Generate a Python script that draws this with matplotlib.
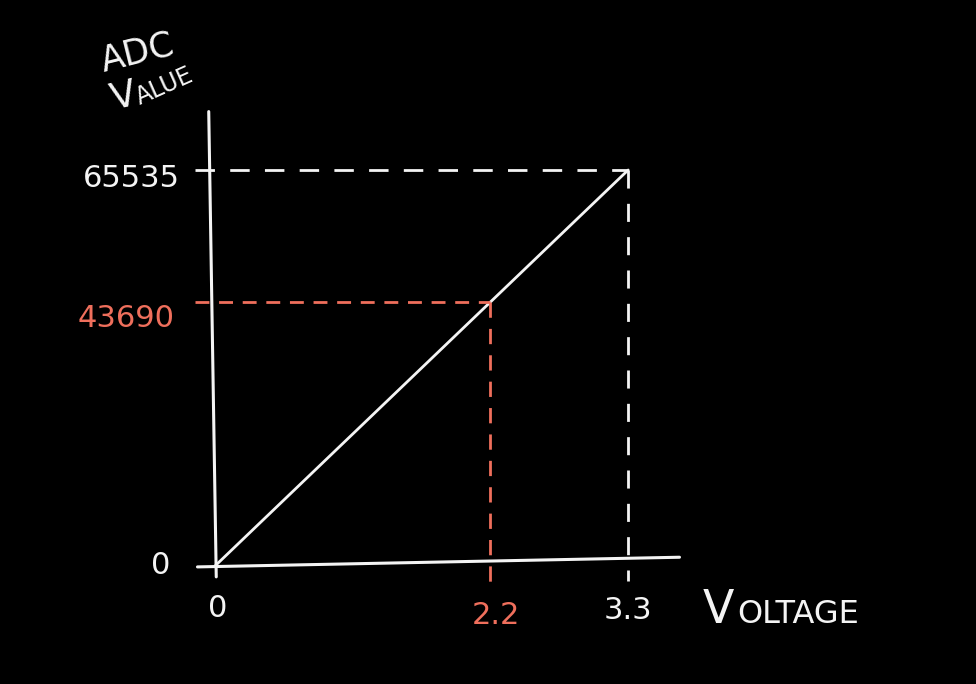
import matplotlib.pyplot as plt

plt.rcParams['font.family'] = ['DejaVu Sans']
plt.rcParams['lines.scale_dashes'] = False

# data
v_max = 3.3
adc_max = 65535
v_mark = 2.2
adc_mark = 43690

line_v = [0, v_max]
line_adc = [0, adc_max]

white = '#f4f4f4'
red = '#ef6f5c'

fig = plt.figure(figsize=(9.76, 6.84), dpi=100, facecolor='black')
ax = fig.add_axes([0, 0, 1, 1])
ax.set_facecolor('black')
# pixel 215 -> 0 V, 125.2 px per volt ; pixel 566 -> 0, 396 px per 65535
ax.set_xlim(-215 / 125.2, (976 - 215) / 125.2)
ax.set_ylim(-(684 - 566) / 396 * adc_max, 566 / 396 * adc_max)
ax.axis('off')

# axes, hand drawn look (slight tilt)
ax.plot([-0.05, 0.01], [75200, -1800], color=white, lw=2.2, solid_capstyle='round')
ax.plot([-0.14, 3.71], [-150, 1450], color=white, lw=2.2, solid_capstyle='round')

# the transfer line
ax.plot(line_v, line_adc, color=white, lw=2.0, solid_capstyle='round')

# guide lines
ax.plot([-0.16, v_max], [adc_max, adc_max], color=white, lw=2.0, ls=(0, (14, 11)))
ax.plot([v_max, v_max], [adc_max, -2400], color=white, lw=2.0, ls=(0, (13, 11)))
ax.plot([-0.16, v_mark], [adc_mark, adc_mark], color=red, lw=2.0, ls=(0, (10, 7)))
ax.plot([v_mark, v_mark], [adc_mark, -4000], color=red, lw=2.0, ls=(0, (11, 8)))

# tick labels
fs = 22
tw = 'normal'
ax.text(-0.28, adc_max - 1400, '65535', color=white, fontsize=fs, fontweight=tw, ha='right', va='center')
ax.text(-0.32, adc_mark - 2800, '43690', color=red, fontsize=fs, fontweight=tw, ha='right', va='center')
ax.text(-0.36, 0, '0', color=white, fontsize=fs, fontweight=tw, ha='right', va='center')
ax.text(0.02, -7000, '0', color=white, fontsize=fs, fontweight=tw, ha='center', va='center')
ax.text(v_mark + 0.04, -8200, '2.2', color=red, fontsize=fs, fontweight=tw, ha='center', va='center')
ax.text(v_max + 0.0, -7300, '3.3', color=white, fontsize=fs, fontweight=tw, ha='center', va='center')

# axis titles in small caps
ax.text(703 / 976, 1 - 623 / 684, 'V', color=white, fontsize=33, fontweight=tw,
        transform=fig.transFigure, ha='left', va='baseline')
ax.text(737 / 976, 1 - 623 / 684, 'OLTAGE', color=white, fontsize=23, fontweight=tw,
        transform=fig.transFigure, ha='left', va='baseline')

ax.text(104 / 976, 1 - 72 / 684, 'ADC', color=white, fontsize=25, fontweight=tw,
        transform=fig.transFigure, ha='left', va='baseline', rotation=14, rotation_mode='anchor')
ax.text(114 / 976, 1 - 110 / 684, 'V', color=white, fontsize=27, fontweight=tw,
        transform=fig.transFigure, ha='left', va='baseline', rotation=14, rotation_mode='anchor')
ax.text(140 / 976, 1 - 105 / 684, 'ALUE', color=white, fontsize=17, fontweight=tw,
        transform=fig.transFigure, ha='left', va='baseline', rotation=24, rotation_mode='anchor')

fig.savefig('out.png', dpi=100, facecolor='black')
